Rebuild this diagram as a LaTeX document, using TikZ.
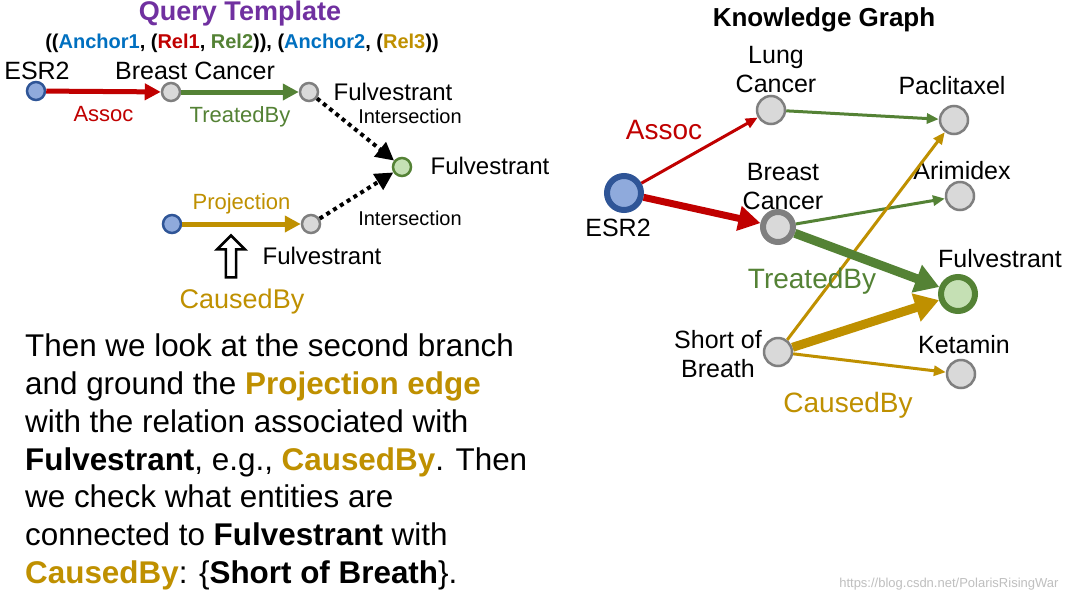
\documentclass[tikz,border=0pt]{standalone}
\usepackage{fontspec}
\setmainfont{Liberation Sans}
\usetikzlibrary{arrows.meta,shapes.arrows,positioning}
\definecolor{kgred}{RGB}{192,0,0}
\definecolor{kggreen}{RGB}{84,130,53}
\definecolor{kggold}{RGB}{191,144,0}
\definecolor{kgpurple}{RGB}{112,48,160}
\definecolor{kgblue}{RGB}{0,112,192}
\definecolor{ancfill}{RGB}{143,170,220}
\definecolor{ancdraw}{RGB}{47,85,151}
\definecolor{entfill}{RGB}{217,217,217}
\definecolor{entdraw}{RGB}{127,127,127}
\definecolor{ansfill}{RGB}{197,224,180}
\newcommand{\fs}[1]{\fontsize{#1}{#1}\selectfont}
\tikzset{
  anchornode/.style={circle, fill=ancfill, draw=ancdraw, line width=2.5pt, minimum size=16pt, inner sep=0pt},
  entity/.style={circle, fill=entfill, draw=entdraw, line width=2.5pt, minimum size=20pt, inner sep=0pt},
  answer/.style={circle, fill=ansfill, draw=kggreen, line width=2.5pt, minimum size=18pt, inner sep=0pt},
  lbl/.style={font=\fs{24}, inner sep=0pt, align=center},
  rel/.style={-{Triangle[length=16pt,width=16pt]}, line width=5pt},
  thin/.style={-{Triangle[length=12pt,width=10pt]}, line width=3pt},
  dots/.style={-{Triangle[length=18pt,width=18pt]}, line width=4pt, dash pattern=on 4pt off 4pt}
}
\begin{document}
\begin{tikzpicture}[x=1pt, y=-1pt]
\useasboundingbox[fill=white] (0,0) rectangle (1070,603);

% Query template
\node[font=\fs{27}\bfseries, text=kgpurple] (qtitle) at (240,14) {Query Template};
\node[font=\fs{20}\bfseries] (formula) at (242,43) {((\textcolor{kgblue}{Anchor1}, (\textcolor{kgred}{Rel1}, \textcolor{kggreen}{Rel2})), (\textcolor{kgblue}{Anchor2}, (\textcolor{kggold}{Rel3}))};

\node[anchornode, minimum size=18pt] (qa1) at (36,91) {};
\node[entity, minimum size=18pt] (qbc) at (171,92) {};
\node[entity, minimum size=18pt] (qf1) at (309,92) {};
\node[answer] (qans) at (402,167) {};
\node[anchornode, minimum size=18pt] (qa2) at (172,224) {};
\node[entity, minimum size=18pt] (qf2) at (311,224) {};

\node[lbl, font=\fs{25}] at (37,71) {ESR2};
\node[lbl, font=\fs{25}] at (195,71) {Breast Cancer};
\node[lbl] at (393,92) {Fulvestrant};
\node[lbl] at (490,166) {Fulvestrant};
\node[lbl] at (322,256) {Fulvestrant};

\draw[rel, kgred] (qa1) -- (qbc) node[midway, below=9pt, font=\fs{22}] {Assoc};
\draw[rel, kggreen] (qbc) -- (qf1) node[midway, below=9pt, font=\fs{22}] {TreatedBy};
\draw[rel, kggold] (qa2) -- (qf2) node[midway, above=4pt, font=\fs{22}] {Projection};
\draw[dots] (qf1) -- (qans);
\draw[dots] (qf2) -- (qans);
\node[font=\fs{20}] at (410,116) {Intersection};
\node[font=\fs{20}] at (410,218) {Intersection};

\node[single arrow, draw=black, line width=2.5pt, fill=white, rotate=90, minimum height=42pt, minimum width=28pt, single arrow head extend=4pt, inner sep=1pt] (up) at (231,259) {};
\node[font=\fs{27}, text=kggold] (caused) at (242,302) {CausedBy};

% Explanation
\node[anchor=north west, font=\fontsize{31.4}{37.7}\selectfont, align=left, inner sep=0pt] (expl) at (25,334) {%
Then we look at the second branch\\
and ground the \textcolor{kggold}{\bfseries Projection edge}\\
with the relation associated with\\
\textbf{Fulvestrant}, e.g., \textcolor{kggold}{\bfseries CausedBy}. Then\\
we check what entities are\\
connected to \textbf{Fulvestrant} with\\
\textcolor{kggold}{\bfseries CausedBy}: \{\textbf{Short of Breath}\}.};

% Knowledge graph
\node[font=\fs{26}\bfseries] (kgtitle) at (824,20) {Knowledge Graph};

\node[circle, fill=ancfill, draw=ancdraw, line width=6pt, minimum size=34pt, inner sep=0pt] (esr) at (624,193) {};
\node[entity, minimum size=28pt] (lung) at (771,110) {};
\node[entity, minimum size=28pt] (pac) at (954,120) {};
\node[entity, minimum size=30pt, line width=6pt] (bc) at (778,227) {};
\node[entity, minimum size=28pt] (ari) at (960,196) {};
\node[circle, fill=ansfill, draw=kggreen, line width=6pt, minimum size=34pt, inner sep=0pt] (fulv) at (958,294) {};
\node[entity, minimum size=28pt] (sob) at (778,352) {};
\node[entity, minimum size=28pt] (ket) at (961,374) {};

\node[lbl, font=\fontsize{25}{29}\selectfont] at (776,70) {Lung\\Cancer};
\node[lbl, font=\fs{25}] at (618,228) {ESR2};
\node[lbl, font=\fs{25}] at (952,86) {Paclitaxel};
\node[lbl, font=\fontsize{25}{29}\selectfont] at (783,187) {Breast\\Cancer};
\node[lbl, font=\fs{25}] at (962,171) {Arimidex};
\node[lbl, font=\fs{25}] at (1000,259) {Fulvestrant};
\node[lbl, font=\fontsize{25}{29}\selectfont] at (718,354) {Short of\\Breath};
\node[lbl, font=\fs{25}] at (964,345) {Ketamin};

\draw[thin, kgred] (esr) -- (lung);
\draw[rel, kgred, line width=7pt, -{Triangle[length=22pt,width=24pt]}] (esr) -- (bc);
\draw[thin, kggreen] (lung) -- (pac);
\draw[thin, kggreen] (bc) -- (ari);
\draw[thin, kggold] (sob) -- (pac);
\draw[thin, kggold] (sob) -- (ket);
\draw[rel, kggreen, line width=9pt, -{Triangle[length=24pt,width=28pt]}] (bc) -- (fulv);
\draw[rel, kggold, line width=9pt, -{Triangle[length=24pt,width=28pt]}] (sob) -- (fulv);

\node[font=\fs{28}, text=kgred] at (664,130) {Assoc};
\node[font=\fs{28}, text=kggreen] at (812,281) {TreatedBy};
\node[font=\fs{28}, text=kggold] at (848,405) {CausedBy};

\node[font=\fs{13}, text=black!25, anchor=east] at (1062,584) {https://blog.csdn.net/PolarisRisingWar};
\end{tikzpicture}
\end{document}
